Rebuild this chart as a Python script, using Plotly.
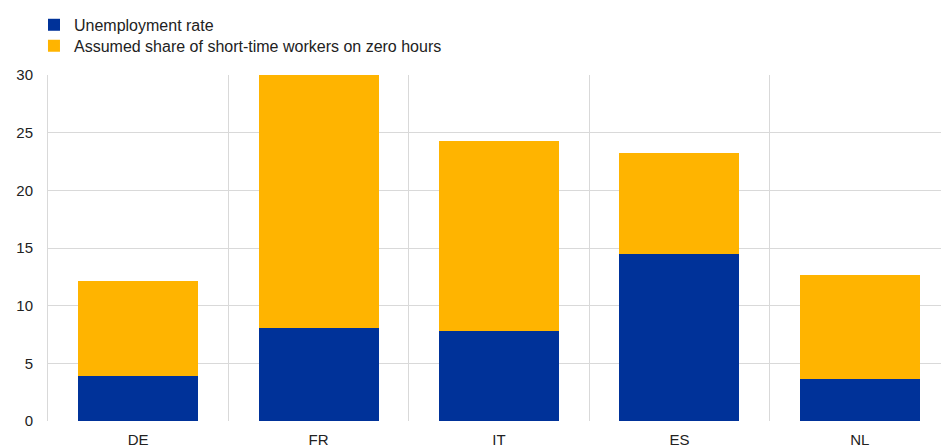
import plotly.graph_objects as go

countries = ["DE", "FR", "IT", "ES", "NL"]
unemployment = [3.9, 8.05, 7.8, 14.45, 3.6]
zero_hours = [8.2, 22.0, 16.5, 8.75, 9.05]

blue = "#003299"
yellow = "#FFB400"
grid = "#D9D9D9"
xpos = list(range(len(countries)))

fig = go.Figure()
fig.add_trace(go.Bar(x=xpos, y=unemployment, name="Unemployment rate",
                     marker=dict(color=blue, line=dict(width=0)), width=0.665,
                     legend="legend"))
fig.add_trace(go.Bar(x=xpos, y=zero_hours, name="Assumed share of short-time workers on zero hours",
                     marker=dict(color=yellow, line=dict(width=0)), width=0.665,
                     legend="legend2"))

leg_common = dict(x=-0.0157, xanchor="left", yanchor="top", orientation="v",
                  font=dict(size=16), itemsizing="constant",
                  bgcolor="rgba(0,0,0,0)")

fig.update_layout(
    barmode="stack",
    width=941, height=448,
    margin=dict(l=48, r=0, t=75, b=27),
    plot_bgcolor="white", paper_bgcolor="white",
    font=dict(family="Liberation Sans, Arial", size=15, color="#222222"),
    showlegend=True,
    legend=dict(y=1.194, **leg_common),
    legend2=dict(y=1.1335, **leg_common),
    bargap=0,
)
fig.update_xaxes(
    range=[-0.5, 4.45],
    tickvals=xpos, ticktext=countries,
    showgrid=False, zeroline=False,
    ticks="", showline=False, ticklabelstandoff=8,
    minor=dict(tickvals=[0.5, 1.5, 2.5, 3.5], showgrid=True, gridcolor=grid, gridwidth=1, ticks=""),
)
fig.update_yaxes(
    range=[0, 30], tickvals=[0, 5, 10, 15, 20, 25, 30],
    showgrid=True, gridcolor=grid, gridwidth=1,
    zeroline=False, showline=True, linecolor=grid, linewidth=1,
    ticks="", ticklen=0, ticklabelstandoff=11,
)
fig.write_html("out.html", config={"displayModeBar": False},
               post_script="document.body.style.margin='0';document.body.style.overflow='hidden';")
